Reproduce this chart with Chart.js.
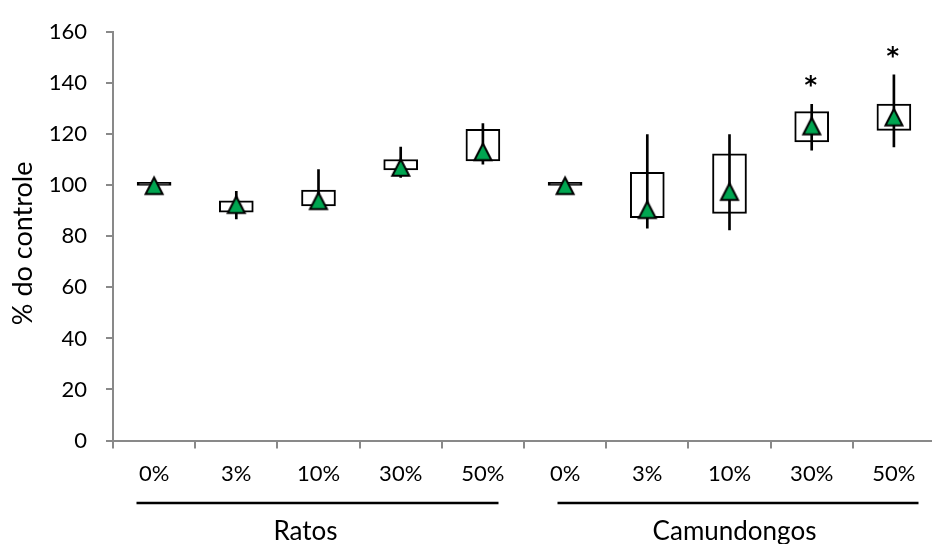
<!DOCTYPE html>
<html>
<head>
<meta charset="utf-8">
<script src="https://cdn.jsdelivr.net/npm/chart.js@4.4.1/dist/chart.umd.min.js"></script>
<style>
  html, body { margin: 0; padding: 0; background: #fff; overflow: hidden; width: 932px; height: 544px; }
  #wrap { width: 940px; height: 544px; }
</style>
</head>
<body>
<div id="wrap"><canvas id="chart" width="940" height="544"></canvas></div>
<script>
// Dose levels (% of diet) for each species
const doses = ['0%', '3%', '10%', '30%', '50%', '0%', '3%', '10%', '30%', '50%'];
const groups = ['Ratos', 'Camundongos'];
const groupSize = 5;

// Box plot summary, % of control
const whiskerLow  = [100, 86.8, 91.5, 103.1, 108.3, 100, 83.2, 82.5, 113.8, 115.0];
const boxLow      = [100, 89.5, 91.9, 106.0, 109.6, 100, 87.3, 89.0, 117.0, 121.5];
const boxHigh     = [100, 93.9, 98.1, 110.1, 121.9, 100, 105.1, 112.3, 128.9, 131.8];
const whiskerHigh = [100, 97.6, 106.2, 115.0, 124.2, 100, 119.9, 119.9, 131.7, 143.3];
const means       = [100, 92.6, 94.1, 107.2, 113.3, 100, 90.6, 97.7, 123.4, 126.9];
const significance = ['', '', '', '', '', '', '', '', '*', '*'];

const yMin = 0, yMax = 160, yStep = 20;
const yTitle = '% do controle';

const FONT = 'Lato, "Open Sans", sans-serif';
const AXIS_GREY = '#898989';
const GREEN = '#00A651';

// Triangle marker used for the mean
function triangleMarker() {
  const c = document.createElement('canvas');
  c.width = 24; c.height = 24;
  const g = c.getContext('2d');
  g.beginPath();
  g.moveTo(12, 4.3);
  g.lineTo(20.5, 20.8);
  g.lineTo(3.5, 20.8);
  g.closePath();
  g.fillStyle = GREEN;
  g.fill();
  g.lineWidth = 2;
  g.lineJoin = 'miter';
  g.strokeStyle = '#000';
  g.stroke();
  return c;
}

// Group captions under the dose labels (offsets in px from the group centre)
const groupStyle = [
  { lineFrom: -182, lineTo: 180, textDx: -13 },
  { lineFrom: -172, lineTo: 189, textDx: 5 }
];

const annotations = {
  id: 'annotations',
  afterDraw(chart) {
    const { ctx, scales: { x, y }, chartArea } = chart;
    ctx.save();

    // significance marks above the upper whisker
    ctx.fillStyle = '#000';
    ctx.font = 'bold 24px "DejaVu Sans", sans-serif';
    ctx.textAlign = 'center';
    ctx.textBaseline = 'alphabetic';
    significance.forEach((s, i) => {
      if (!s) return;
      const m = ctx.measureText(s);
      const cy = y.getPixelForValue(whiskerHigh[i]) - 23;
      ctx.fillText(s, x.getPixelForValue(i) - 1, cy + (m.actualBoundingBoxAscent - m.actualBoundingBoxDescent) / 2);
    });

    // species captions with underline
    groups.forEach((name, gi) => {
      const first = gi * groupSize, last = first + groupSize - 1;
      const cx = (x.getPixelForValue(first) + x.getPixelForValue(last)) / 2;
      const st = groupStyle[gi];
      ctx.strokeStyle = '#000';
      ctx.lineWidth = 2.7;
      ctx.beginPath();
      ctx.moveTo(cx + st.lineFrom, 503);
      ctx.lineTo(cx + st.lineTo, 503);
      ctx.stroke();
      ctx.font = '26px ' + FONT;
      ctx.textAlign = 'center';
      ctx.textBaseline = 'alphabetic';
      ctx.fillText(name, cx + st.textDx, 539.5);
    });

    // y axis title
    ctx.translate(23, (chartArea.top + chartArea.bottom) / 2 + 7);
    ctx.rotate(-Math.PI / 2);
    ctx.font = '27px ' + FONT;
    ctx.textAlign = 'center';
    ctx.textBaseline = 'middle';
    ctx.fillText(yTitle, 0, 0);
    ctx.restore();
  }
};

new Chart(document.getElementById('chart'), {
  type: 'bar',
  data: {
    labels: doses,
    datasets: [
      {
        type: 'line',
        label: 'Média',
        data: means,
        showLine: false,
        pointStyle: triangleMarker(),
        order: 0
      },
      {
        label: 'Amplitude',
        data: whiskerLow.map((v, i) => [v, whiskerHigh[i]]),
        backgroundColor: '#000',
        borderWidth: 0,
        barThickness: 2,
        grouped: false,
        order: 1
      },
      {
        label: 'Quartis',
        data: boxLow.map((v, i) => [v, boxHigh[i]]),
        // a box with no spread collapses into a solid bar
        backgroundColor: c => boxLow[c.dataIndex] === boxHigh[c.dataIndex] ? '#000' : '#fff',
        borderColor: '#000',
        borderWidth: 2,
        borderSkipped: false,
        barThickness: 34,
        minBarLength: 3,
        grouped: false,
        order: 2
      }
    ]
  },
  options: {
    responsive: false,
    animation: false,
    devicePixelRatio: 1,
    layout: { padding: { top: 26, left: 0, right: 0, bottom: 0 } },
    plugins: { legend: { display: false }, tooltip: { enabled: false } },
    scales: {
      x: {
        offset: true,
        grid: { offset: true, drawOnChartArea: false, tickLength: 8, color: AXIS_GREY, lineWidth: 2 },
        border: { color: AXIS_GREY, width: 2 },
        ticks: { color: '#000', font: { family: FONT, size: 22 }, padding: 12, maxRotation: 0, autoSkip: false },
        afterFit(scale) { scale.height = 103.5; }
      },
      y: {
        min: yMin, max: yMax,
        grid: { drawOnChartArea: false, tickLength: 7, color: AXIS_GREY, lineWidth: 2 },
        border: { color: AXIS_GREY, width: 2 },
        ticks: { stepSize: yStep, color: '#000', font: { family: FONT, size: 22 }, padding: 19 },
        afterFit(scale) { scale.width = 113; }
      }
    }
  },
  plugins: [annotations]
});
</script>
</body>
</html>
